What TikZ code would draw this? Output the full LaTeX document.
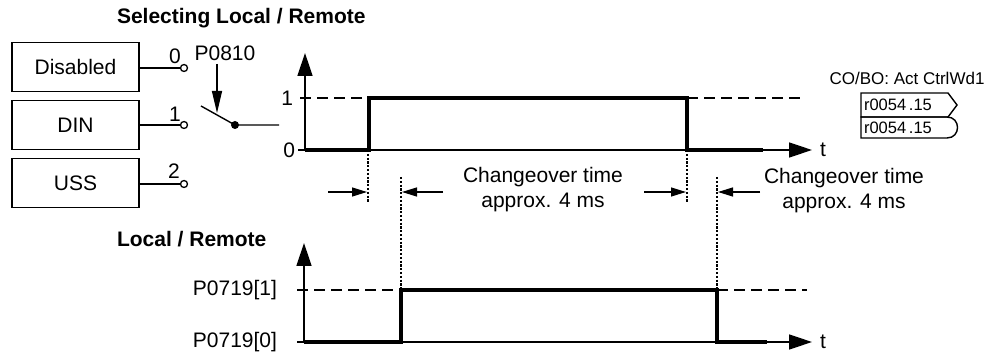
\documentclass[tikz,border=0pt]{standalone}
\usepackage{fontspec}
\setmainfont{Liberation Sans}
\usetikzlibrary{arrows.meta}
\begin{document}
\begin{tikzpicture}[x=1pt,y=-1pt,
  every node/.style={font=\fontsize{21}{25}\selectfont, inner sep=0pt, outer sep=0pt},
  titletext/.style={font=\fontsize{21}{25}\selectfont\bfseries, anchor=base west},
  srcbox/.style={draw, line width=1.6pt, minimum width=127pt, minimum height=49pt},
  term/.style={circle, draw, fill=white, line width=1.3pt, minimum size=7pt},
  swdot/.style={circle, fill=black, minimum size=8pt},
  wire/.style={line width=1.4pt},
  axisline/.style={line width=1.4pt, -{Triangle[length=23pt,width=15pt]}},
  sig/.style={line width=3.2pt, line join=miter},
  lvl/.style={line width=1.3pt, dash pattern=on 11pt off 6pt},
  mark line/.style={line width=1.3pt, dash pattern=on 2.2pt off 1.6pt},
  dimarrow/.style={line width=1.3pt, -{Triangle[length=15pt,width=9pt]}},
  ptrarrow/.style={line width=1.3pt, -{Triangle[length=22pt,width=10pt]}},
  ctext/.style={align=center},
  connbox/.style={line width=1.4pt},
  smalltext/.style={font=\fontsize{17}{20}\selectfont},
  rtext/.style={font=\fontsize{16.5}{20}\selectfont, anchor=west}
]
\useasboundingbox (0,0) rectangle (991,352);

% titles
\node[titletext] (title1) at (117,24) {Selecting Local / Remote};
\node[titletext] (title2) at (117,247) {Local / Remote};

% source boxes
\node[srcbox] (dis) at (75.5,67) {Disabled};
\node[srcbox] (din) at (75.5,125) {DIN};
\node[srcbox] (uss) at (75.5,183) {USS};

% terminals
\node[term] (c0) at (184,68) {};
\node[term] (c1) at (184,125) {};
\node[term] (c2) at (184,184) {};
\draw[wire] (dis.east |- c0) -- (c0.west);
\draw[wire] (din.east |- c1) -- (c1.west);
\draw[wire] (uss.east |- c2) -- (c2.west);
\node (l0) at (175,56) {0};
\node (l1) at (175,114) {1};
\node (l2) at (174,171) {2};

% switch
\node (p0810) at (225,53) {P0810};
\coordinate (swa) at (201,106);
\node[swdot] (swd) at (235,125) {};
\coordinate (swo) at (279,125);
\draw[wire] (swa) -- (swd.center) -- (swo);
\coordinate (ptop) at (217,64);
\coordinate (pbot) at (217,113);
\draw[ptrarrow] (ptop) -- (pbot);

% upper diagram
\coordinate (ua0) at (305,150);
\coordinate (uat) at (305,53);
\coordinate (uh0) at (298,150);
\coordinate (uht) at (812,150);
\draw[axisline] (ua0) -- (uat);
\draw[axisline] (uh0) -- (uht);
\node[anchor=east] (u1) at (293,98) {1};
\node[anchor=east] (u0) at (295,150) {0};
\node[anchor=west] (ut) at (820,150) {t};
\draw[lvl] (300,98) -- (369,98);
\draw[lvl] (687,98) -- (806,98);
\draw[sig] (305,150) -- (369,150) -- (369,98) -- (687,98) -- (687,150) -- (763,150);

% markers
\coordinate (m1a) at (368,150); \coordinate (m1b) at (368,203);
\coordinate (m2a) at (401,177); \coordinate (m2b) at (401,290);
\coordinate (m3a) at (687,150); \coordinate (m3b) at (687,203);
\coordinate (m4a) at (717,177); \coordinate (m4b) at (717,290);
\draw[mark line] (m1a) -- (m1b);
\draw[mark line] (m2a) -- (m2b);
\draw[mark line] (m3a) -- (m3b);
\draw[mark line] (m4a) -- (m4b);

\coordinate (d1) at (328,192); \coordinate (d1e) at (367,192);
\coordinate (d2) at (443,192); \coordinate (d2e) at (402,192);
\coordinate (d3) at (644,192); \coordinate (d3e) at (686,192);
\coordinate (d4) at (760,192); \coordinate (d4e) at (718,192);
\draw[dimarrow] (d1) -- (d1e);
\draw[dimarrow] (d2) -- (d2e);
\draw[dimarrow] (d3) -- (d3e);
\draw[dimarrow] (d4) -- (d4e);
\node[ctext] (ct1) at (543,190) {Changeover time\\approx. 4 ms};
\node[ctext] (ct2) at (844,191) {Changeover time\\approx. 4 ms};

% lower diagram
\coordinate (la0) at (304,342);
\coordinate (lat) at (304,243);
\coordinate (lh0) at (297,342);
\coordinate (lht) at (812,342);
\draw[axisline] (la0) -- (lat);
\draw[axisline] (lh0) -- (lht);
\node[anchor=east] (p1) at (277,290) {P0719[1]};
\node[anchor=east] (p0) at (277,342) {P0719[0]};
\node[anchor=west] (lt) at (820,342) {t};
\draw[lvl] (297,290) -- (401,290);
\draw[lvl] (717,290) -- (807,290);
\draw[sig] (304,342) -- (401,342) -- (401,290) -- (717,290) -- (717,342) -- (767,342);

% connector
\node[smalltext] (cobo) at (907,78) {CO/BO: Act CtrlWd1};
\draw[connbox] (861,93) -- (948,93) -- (957,105) -- (948,117) -- (861,117) -- cycle;
\draw[connbox] (861,117) -- (947,117) .. controls (961,117) and (961,138) .. (947,138) -- (861,138) -- cycle;
\node[rtext] (r1) at (864,105) {r0054\,.15};
\node[rtext] (r2) at (864,128) {r0054\,.15};
\end{tikzpicture}
\end{document}
